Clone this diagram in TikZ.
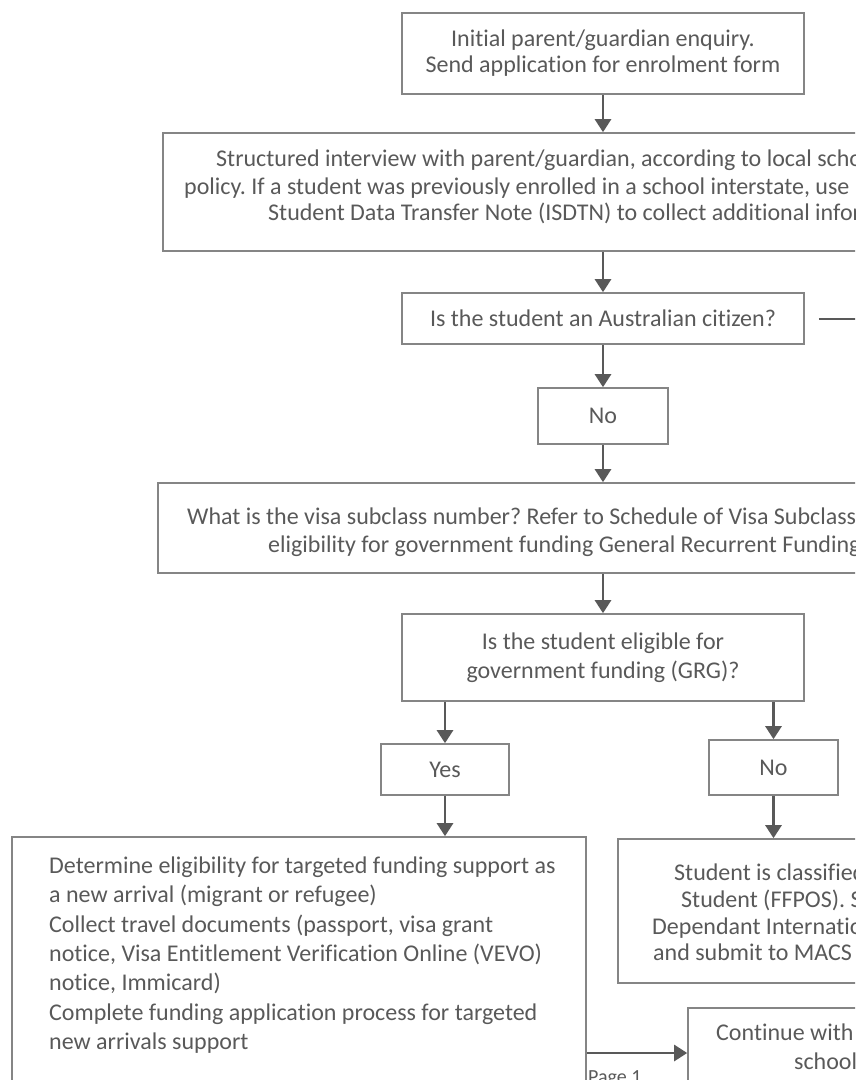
\documentclass[tikz,border=0pt]{standalone}
\usepackage{fontspec}
\setmainfont{Carlito}[Ligatures=NoCommon]
\usetikzlibrary{arrows.meta,calc}
\definecolor{txt}{HTML}{595959}
\definecolor{brd}{HTML}{858585}
\definecolor{arw}{HTML}{595959}
\frenchspacing
\begin{document}
\begin{tikzpicture}[x=1pt,y=-1pt,
  box/.style={draw=brd,line width=1.6pt,rectangle,inner sep=0pt,text=txt,align=center,font=\fontsize{24}{29}\selectfont},
  arr/.style={draw=arw,line width=2.6pt,-{Triangle[length=13pt,width=16pt]}},
  plain/.style={draw=arw,line width=2pt},
  lbl/.style={anchor=base west,inner sep=0pt,text=txt,font=\fontsize{24}{29}\selectfont}]
\useasboundingbox (0,0) rectangle (855,1080);
\clip (0,0) rectangle (855,1080);

% boxes
\node[box,minimum width=402pt,minimum height=81pt,font=\fontsize{24}{26}\selectfont] (b1) at (603,53.5)
  {Initial parent/guardian enquiry.\\Send application for enrolment form};
\node[box,minimum width=880pt,minimum height=118pt] (b2) at (603,192) {};
\node[lbl] (b2l1) at (216,166.5) {Structured interview with parent/guardian, according to local school};
\node[lbl] (b2l2) at (184,194) {policy. If a student was previously enrolled in a school interstate, use};
\node[lbl] (b2l3) at (268,220) {Student Data Transfer Note (ISDTN) to collect additional information};

\node[box,minimum width=402pt,minimum height=51pt] (b3) at (603,318.5) {Is the student an Australian citizen?};
\coordinate (out1) at (900,318.5);

\node[box,minimum width=130pt,minimum height=56pt] (noA) at (603,416) {No};

\node[box,minimum width=890pt,minimum height=90pt] (b5) at (603,528) {};
\node[lbl] (b5l1) at (187,524) {What is the visa subclass number? Refer to Schedule of Visa Subclasses};
\node[lbl] (b5l2) at (268,552) {eligibility for government funding General Recurrent Funding};

\node[box,minimum width=402pt,minimum height=87pt] (b6) at (603,657.5)
  {Is the student eligible for\\government funding (GRG)?};

\node[box,minimum width=128pt,minimum height=51pt] (yes) at (445,769.5) {Yes};
\node[box,minimum width=129pt,minimum height=55pt] (no2) at (773.5,767.5) {No};

\node[box,minimum width=574pt,minimum height=293pt] (big) at (299,983.5) {};
\foreach \i/\t in {0/{Determine eligibility for targeted funding support as},
                   1/{a new arrival (migrant or refugee)},
                   2/{Collect travel documents (passport, visa grant},
                   3/{notice, Visa Entitlement Verification Online (VEVO)},
                   4/{notice, Immicard)},
                   5/{Complete funding application process for targeted},
                   6/{new arrivals support}}
  \node[lbl] (bt\i) at (49,873.5+29.33*\i) {\t};

\node[box,minimum width=312pt,minimum height=144pt] (stud) at (774,911) {};
\node[lbl] (st1) at (674,880) {Student is classified};
\node[lbl] (st2) at (681,907) {Student (FFPOS). Submit};
\node[lbl] (st3) at (652,934) {Dependant International};
\node[lbl] (st4) at (653,960) {and submit to MACS Enrolments};

\node[box,minimum width=312pt,minimum height=90pt] (cont) at (844,1053) {};
\node[lbl] (ct1) at (716,1040) {Continue with};
\node[lbl] (ct2) at (794,1069) {school};

\node[lbl,font=\fontsize{20}{24}\selectfont] (pg) at (588,1083) {Page 1};

% connectors
\draw[arr] (b1.south) -- (b2.north);
\draw[arr] (b2.south) -- (b3.north);
\draw[plain] ([xshift=14pt]b3.east) -- (out1);
\draw[arr] (b3.south) -- (noA.north);
\draw[arr] (noA.south) -- (b5.north);
\draw[arr] (b5.south) -- (b6.north);
\draw[arr] (b6.south -| yes.north) -- (yes.north);
\draw[arr] (b6.south -| no2.north) -- (no2.north);
\draw[arr] (yes.south) -- (yes.south |- big.north);
\draw[arr] (no2.south) -- (no2.south |- stud.north);
\draw[arr] (big.east |- cont.west) -- (cont.west);
\end{tikzpicture}
\end{document}
